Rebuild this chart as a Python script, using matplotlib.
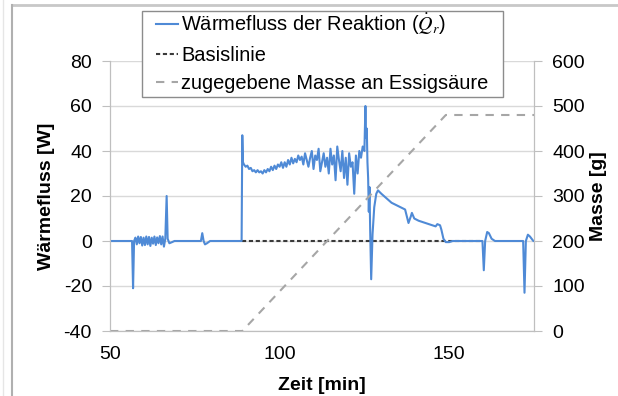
import matplotlib
matplotlib.use("Agg")
import matplotlib.pyplot as plt
from matplotlib.lines import Line2D
from matplotlib.patches import Rectangle

plt.rcParams['font.family'] = ['Liberation Sans', 'DejaVu Sans']
plt.rcParams['mathtext.fontset'] = 'stix'
plt.rcParams['axes.unicode_minus'] = False

# Wärmefluss der Reaktion (Zeit in min, Wert in W)
zeit_q = [50, 56.5, 56.8, 57.1, 57.5, 57.9, 58.3, 58.7, 59.1, 59.5, 59.9, 60.3, 60.7, 61.1, 61.5,
          61.9, 62.3, 62.7, 63.1, 63.5, 63.9, 64.3, 64.7, 65.1, 65.5, 65.9, 66.3, 66.7, 67.0, 67.5,
          68.3, 69, 76.8, 77.2, 77.6, 78.0, 78.6, 79.5, 88.8, 89.0, 89.2,
          89.5, 90, 90.5, 91, 91.5, 92, 92.5, 93, 93.5, 94, 94.5, 95, 95.5, 96, 96.5, 97, 97.5,
          98, 98.5, 99, 99.5, 100, 100.5, 101, 101.5, 102, 102.5, 103, 103.5, 104, 104.5, 105,
          105.5, 106, 106.5, 107, 107.5, 108, 108.5, 109, 109.5, 110, 110.5, 111, 111.5, 112,
          112.5, 113, 113.5, 114, 114.5, 115, 115.5, 116, 116.5, 117, 117.5, 118, 118.5, 119,
          119.5, 120, 120.5, 121, 121.5, 122, 122.5, 123, 123.5, 124, 124.5, 125, 125.3, 125.5,
          125.7, 125.9, 126.1, 126.3, 126.5, 126.7, 127.0, 127.4, 127.9, 128.5, 129, 130, 131.5,
          133, 135, 137, 138, 138.7, 139, 139.7, 141, 143, 145, 146, 146.5, 147.3, 147.7, 148.3,
          149, 150, 151, 159.8, 160.2, 160.6, 161.2, 161.7, 162.5, 163.5, 171.8, 172.2, 172.6,
          173.2, 173.8, 174.3, 174.8, 175]
waerme_q = [0, 0, -21, 0, 1.5, -1.5, 2, -1, 1.8, -2, 1.5, -1.8, 2, -1.5, 1.8,
            -2.2, 1.5, -1.2, 2, -1.8, 1.6, -1, 2.2, -1.5, 2, -2.5, 1, 20, 1, -1,
            -0.5, 0, 0, 3.5, 0, -1.5, -1, 0, 0, 47, 35,
            34, 33, 33.5, 32, 32.5, 31, 31.5, 30.5, 31.5, 30.5, 31, 30, 31.5, 30.5, 32, 31, 33,
            31.5, 33.5, 32, 34, 33, 35, 32.5, 35, 33, 36, 34, 37, 34.5, 36.5, 35,
            38, 36, 37.5, 34, 39, 36, 33, 37, 40, 32, 38, 36, 41, 31,
            35, 39, 33, 37, 30, 41, 34, 38, 27, 42, 36, 31, 40, 28,
            37, 25, 39, 33, 35, 21, 38, 30, 40, 37, 42, 40, 60, 46,
            50, 35, 28, 13, 24, 5, -17, 3, 15, 21, 22.5, 21, 19,
            17, 15.5, 14, 8, 11, 12.5, 10, 9, 8, 7, 6.5, 7.5, 7, 5, 1,
            -0.5, -0.5, 0, 0, -13, 0, 4, 3.5, 1, 0, 0, -23, 0,
            2.8, 2, 1, 0, 0]

# Basislinie
zeit_basis = [89, 159]
waerme_basis = [0, 0]

# zugegebene Masse an Essigsäure (g)
zeit_masse = [50, 89, 149, 175]
masse = [0, 0, 480, 480]

fig = plt.figure(figsize=(6.18, 3.96), dpi=100)
ax = fig.add_axes([110 / 618, 1 - 331 / 396, 424 / 618, 270 / 396])
ax2 = ax.twinx()

blau = '#4f8ad6'
grau = '#a6a6a6'
achse = '#bfbfbf'

l1, = ax.plot(zeit_q, waerme_q, color=blau, lw=1.5, zorder=3)
l2, = ax.plot(zeit_basis, waerme_basis, color='#3a3a3a', lw=1.5, ls=(0, (2, 1.3)), zorder=2)
l3, = ax2.plot(zeit_masse, masse, color=grau, lw=1.5, ls=(0, (4, 3.5)))

ax.set_xlim(50, 175)
ax.set_ylim(-40, 80)
ax2.set_ylim(0, 600)
ax.set_xticks([50, 100, 150])
ax.set_yticks(range(-40, 81, 20))
ax2.set_yticks(range(0, 601, 100))

ax.grid(axis='y', color='#d9d9d9', lw=1)
ax.set_axisbelow(True)

for a in (ax, ax2):
    for s in a.spines.values():
        s.set_color(achse)
    a.spines['top'].set_visible(False)
ax.tick_params(axis='x', length=0, pad=11, labelsize=14)
ax.tick_params(axis='y', length=6, color=achse, pad=7, labelsize=14)
ax2.tick_params(axis='y', length=6, color=achse, pad=7, labelsize=14)

ax.set_xlabel('Zeit [min]', fontsize=14, fontweight='bold')
ax.set_ylabel('Wärmefluss [W]', fontsize=14, fontweight='bold')
ax2.set_ylabel('Masse [g]', fontsize=14, fontweight='bold', rotation=90)
ax.xaxis.set_label_coords(0.5, -0.17)
ax.yaxis.set_label_coords(-0.13, 0.5)
ax2.yaxis.set_label_coords(1.132, 0.5)

# Legendenrahmen
fig.add_artist(Rectangle((142 / 618, 1 - 97 / 396), 361 / 618, 86 / 396,
                         transform=fig.transFigure, facecolor='white',
                         edgecolor='#8c8c8c', lw=1, zorder=4))
leg = fig.legend([l1, l2, l3],
                 ['Wärmefluss der Reaktion ($\\dot{Q}_r$)', 'Basislinie',
                  'zugegebene Masse an Essigsäure'],
                 loc='upper left', bbox_to_anchor=(156 / 618, 1 - 12 / 396),
                 fontsize=14.4, frameon=False, borderpad=0, labelspacing=0.45,
                 handlelength=1.1, handletextpad=0.15, borderaxespad=0)
leg.set_zorder(5)

# Rahmen des Diagramms
fig.add_artist(Line2D([12 / 618, 1], [1 - 5 / 396, 1 - 5 / 396], color='#c8c8c8', lw=2))
fig.add_artist(Line2D([12 / 618, 12 / 618], [0, 1 - 5 / 396], color='#b0b0b0', lw=1.5))
fig.add_artist(Line2D([3 / 618, 3 / 618], [0, 1], color='#e6e6e6', lw=1))

fig.savefig('out.png', dpi=100)
